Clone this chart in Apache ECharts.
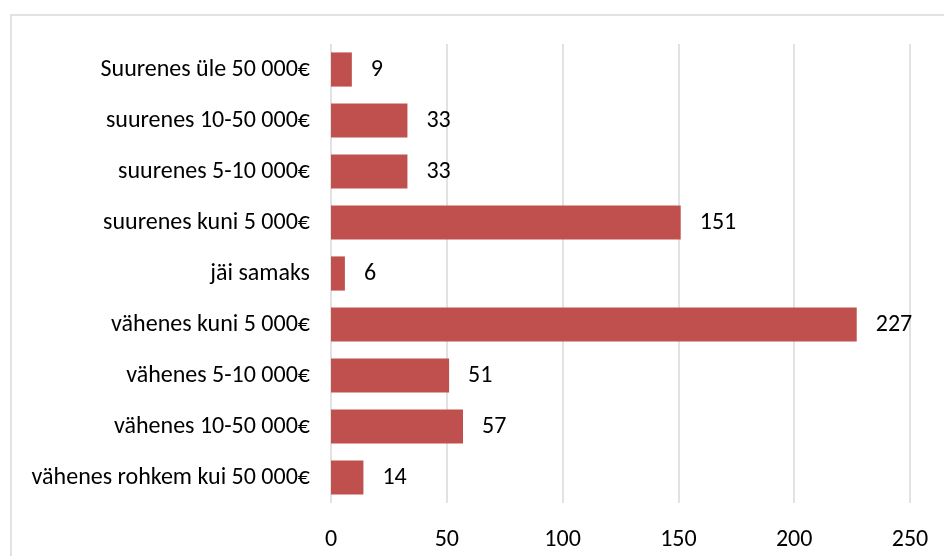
<!DOCTYPE html>
<html><head><meta charset="utf-8">
<script src="https://cdn.jsdelivr.net/npm/echarts@6/dist/echarts.min.js"></script>
<style>html,body{margin:0;padding:0;background:#fff}#c{width:944px;height:556px}</style>
</head><body><div id="c"></div>
<script>
const categories = ['Suurenes üle 50 000€','suurenes 10-50 000€','suurenes 5-10 000€','suurenes kuni 5 000€','jäi samaks','vähenes kuni 5 000€','vähenes 5-10 000€','vähenes 10-50 000€','vähenes rohkem kui 50 000€'];
const values = [9,33,33,151,6,227,51,57,14];
const axisMin = 0, axisMax = 250, axisStep = 50;
const font = 'Carlito, Lato, "Open Sans", sans-serif';
const fs = 24;
const chart = echarts.init(document.getElementById('c'));
chart.setOption({
  animation:false,
  graphic:[{type:'rect',shape:{x:11,y:15,width:1000,height:600},style:{fill:'none',stroke:'#d9d9d9',lineWidth:1.5},silent:true}],
  grid:{left:331,right:34,top:44,bottom:53},
  xAxis:{type:'value',min:axisMin,max:axisMax,interval:axisStep,
    axisLine:{show:false},axisTick:{show:false},
    splitLine:{lineStyle:{color:'#d9d9d9',width:1.5}},
    axisLabel:{color:'#000',fontSize:fs,fontFamily:font,margin:25}},
  yAxis:{type:'category',data:categories,inverse:true,
    axisLine:{show:false},axisTick:{show:false},
    axisLabel:{color:'#000',fontSize:fs,fontFamily:font,margin:21}},
  series:[{type:'bar',data:values,barCategoryGap:'33%',
    itemStyle:{color:'#c0504d'},
    label:{show:true,position:'right',distance:19,color:'#000',fontSize:fs,fontFamily:font}}]
});
</script></body></html>
